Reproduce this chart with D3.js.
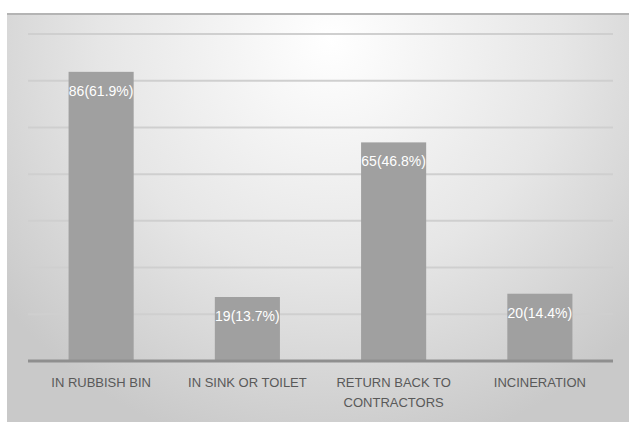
<!DOCTYPE html>
<html>
<head>
<meta charset="utf-8">
<script src="https://cdn.jsdelivr.net/npm/d3@7"></script>
<style>
  body { margin: 0; background: #fff; }
  svg { display: block; }
</style>
</head>
<body>
<div id="chart"></div>
<script>
// data
const categories = ["IN RUBBISH BIN", "IN SINK OR TOILET", "RETURN BACK TO|CONTRACTORS", "INCINERATION"];
const counts = [86, 19, 65, 20];
const percents = [61.9, 13.7, 46.8, 14.4];
const yTicks = [0, 10, 20, 30, 40, 50, 60, 70];

const width = 629, height = 422;
const margin = { top: 34, right: 16, bottom: 61, left: 28 };

const svg = d3.select("#chart")
    .append("svg")
    .attr("width", width)
    .attr("height", height);

// background gradient
const defs = svg.append("defs");
const grad = defs.append("radialGradient")
    .attr("id", "bg")
    .attr("gradientUnits", "userSpaceOnUse")
    .attr("cx", 330).attr("cy", 40).attr("r", 420);
grad.append("stop").attr("offset", "0%").attr("stop-color", "#ffffff");
grad.append("stop").attr("offset", "55%").attr("stop-color", "#e6e6e6");
grad.append("stop").attr("offset", "100%").attr("stop-color", "#c9c9c9");

svg.append("rect")
    .attr("x", 7).attr("y", 13)
    .attr("width", width - 7).attr("height", height - 13)
    .attr("fill", "url(#bg)");
svg.append("line")
    .attr("x1", 7).attr("x2", width)
    .attr("y1", 14).attr("y2", 14)
    .attr("stroke", "#b4b4b4").attr("stroke-width", 2);

// scales
const data = categories.map((c, i) => ({ cat: c, count: counts[i], pct: percents[i] }));

const xScale = d3.scaleBand()
    .domain(categories)
    .range([margin.left, width - margin.right])
    .paddingInner(0.555)
    .paddingOuter(0.2775);

const yScale = d3.scaleLinear()
    .domain([0, 70])
    .range([height - margin.bottom, margin.top]);

// gridlines
svg.append("g")
    .selectAll("line")
    .data(yTicks.slice(1))
    .enter()
    .append("line")
    .attr("x1", margin.left)
    .attr("x2", width - margin.right)
    .attr("y1", d => yScale(d))
    .attr("y2", d => yScale(d))
    .attr("stroke", "#cfcfcf")
    .attr("stroke-width", 2);

// bars
svg.selectAll("rect.bar")
    .data(data)
    .enter()
    .append("rect")
    .attr("class", "bar")
    .attr("x", d => xScale(d.cat))
    .attr("y", d => yScale(d.pct))
    .attr("width", xScale.bandwidth())
    .attr("height", d => yScale(0) - yScale(d.pct))
    .attr("fill", "#a0a0a0");

// baseline
svg.append("line")
    .attr("x1", margin.left)
    .attr("x2", width - margin.right)
    .attr("y1", yScale(0))
    .attr("y2", yScale(0))
    .attr("stroke", "#8f8f8f")
    .attr("stroke-width", 3);

// value labels
svg.selectAll("text.label")
    .data(data)
    .enter()
    .append("text")
    .attr("class", "label")
    .attr("x", d => xScale(d.cat) + xScale.bandwidth() / 2)
    .attr("y", d => yScale(d.pct) + 24)
    .attr("text-anchor", "middle")
    .attr("fill", "#ffffff")
    .style("font-family", "'Liberation Sans', Arial, sans-serif")
    .style("font-size", "14px")
    .text(d => `${d.count}(${d.pct}%)`);

// x axis labels
const xl = svg.append("g")
    .selectAll("text")
    .data(data)
    .enter()
    .append("text")
    .attr("x", d => xScale(d.cat) + xScale.bandwidth() / 2)
    .attr("y", 387)
    .attr("text-anchor", "middle")
    .attr("fill", "#595959")
    .style("font-family", "'Liberation Sans', Arial, sans-serif")
    .style("font-size", "13px");

xl.each(function (d) {
    const lines = d.cat.split("|");
    d3.select(this).selectAll("tspan")
        .data(lines)
        .enter()
        .append("tspan")
        .attr("x", xScale(d.cat) + xScale.bandwidth() / 2)
        .attr("dy", (l, i) => i === 0 ? 0 : 20)
        .text(l => l);
});
</script>
</body>
</html>
